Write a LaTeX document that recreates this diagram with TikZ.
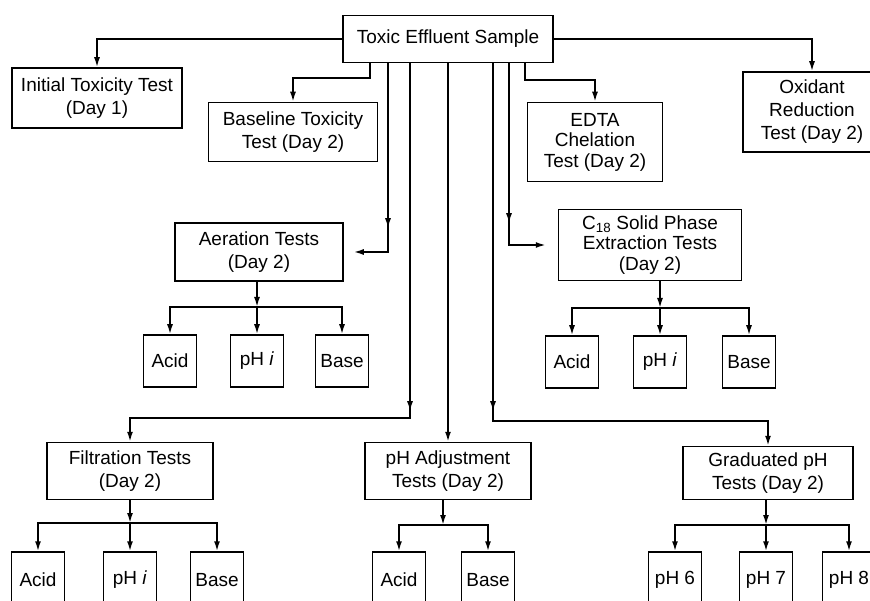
\documentclass[tikz,border=0pt]{standalone}
\usepackage{fontspec}
\setmainfont{Liberation Sans}
\usetikzlibrary{arrows.meta,decorations.markings}

\begin{document}
\begin{tikzpicture}[x=1pt,y=-1pt,
      box/.style={draw,line width=1.5pt,align=center,inner sep=1pt,
        font=\fontsize{19}{23}\selectfont},
      tight/.style={font=\fontsize{19}{20.5}\selectfont},
      leaf/.style={box,minimum width=53,minimum height=52},
      link/.style={line width=1.7pt,-{Latex[length=10pt,width=6pt]}},
      midtip/.style={postaction={decorate,decoration={markings,
        mark=at position #1 with {\arrow{Latex[length=10pt,width=6pt]}}}}}
    ]
      \useasboundingbox (0,0) rectangle (870,601);
      \clip (0,0) rectangle (870,601);
      % sample and first tests
      \node[box,minimum width=210,minimum height=47] (src) at (448,39) {Toxic Effluent Sample};
      \node[box,minimum width=170,minimum height=60] (init) at (97,98) {Initial Toxicity Test\\(Day 1)};
      \node[box,minimum width=169,minimum height=59] (basel) at (293,132) {Baseline Toxicity\\Test (Day 2)};
      \node[box,tight,minimum width=135,minimum height=79] (edta) at (595,142) {EDTA\\Chelation\\Test (Day 2)};
      \node[box,minimum width=138,minimum height=80] (oxid) at (812,112) {Oxidant\\Reduction\\Test (Day 2)};
      % middle tests
      \node[box,minimum width=168,minimum height=58] (aer) at (259,252) {Aeration Tests\\(Day 2)};
      \node[box,tight,minimum width=183,minimum height=71] (c18) at (650,245) {C\textsubscript{18} Solid Phase\\Extraction Tests\\(Day 2)};
      \node[leaf] (aacid) at (170,361) {Acid};
      \node[leaf] (aphi) at (257,361) {pH \textit{i}};
      \node[leaf] (abase) at (342,361) {Base};
      \node[leaf] (cacid) at (572,362) {Acid};
      \node[leaf] (cphi) at (660,362) {pH \textit{i}};
      \node[leaf] (cbase) at (749,362) {Base};
      % lower tests
      \node[box,minimum width=166,minimum height=57] (filt) at (130,471) {Filtration Tests\\(Day 2)};
      \node[box,minimum width=166,minimum height=57] (phadj) at (448,471) {pH Adjustment\\Tests (Day 2)};
      \node[box,minimum width=170,minimum height=53] (grad) at (768,473) {Graduated pH\\Tests (Day 2)};
      \node[leaf,minimum height=56] (facid) at (38,580) {Acid};
      \node[leaf,minimum height=56] (fphi) at (130,580) {pH \textit{i}};
      \node[leaf,minimum height=56] (fbase) at (217,580) {Base};
      \node[leaf,minimum height=56] (pacid) at (399,580) {Acid};
      \node[leaf,minimum height=56] (pbase) at (488,580) {Base};
      \node[leaf,minimum height=56] (ph6) at (675,580) {pH 6};
      \node[leaf,minimum height=56] (ph7) at (766,580) {pH 7};
      \node[leaf,minimum height=56] (ph8) at (849,580) {pH 8};
      % bends and bars
      \coordinate (bbend) at (370,78);
      \coordinate (ebend) at (525,80);
      \coordinate (atrunk) at (388,62);
      \coordinate (ctrunk) at (509,62);
      \coordinate (fbend) at (410,418);
      \coordinate (gbend) at (493,421);
      \coordinate (abar) at (257,307);
      \coordinate (cbar) at (660,308);
      \coordinate (fbar) at (130,523);
      \coordinate (pbar) at (443,525);
      \coordinate (gbar) at (766,525);
      % links from the sample
      \draw[link] (src.west) -| (init.north);
      \draw[link] (src.east) -| (oxid.north);
      \draw[link] (src.south -| bbend) -- (bbend) -| (basel.north);
      \draw[link] (src.south -| ebend) -- (ebend) -| (edta.north);
      \draw[link,midtip=165pt] (src.south -| atrunk) |- ([xshift=10pt]aer.east);
      \draw[link,midtip=160pt] (src.south -| ctrunk) |- ([xshift=-12pt]c18.west);
      \draw[link,midtip=348pt] (src.south -| fbend) -- (fbend) -| (filt.north);
      \draw[link] (src.south -| phadj.north) -- (phadj.north);
      \draw[link,midtip=348pt] (src.south -| gbend) -- (gbend) -| (grad.north);
      % branches
      \draw[link] (aer.south -| abar) -- (abar);
      \foreach \n in {aacid,aphi,abase} \draw[link] (abar) -| (\n.north);
      \draw[link] (c18.south -| cbar) -- (cbar);
      \foreach \n in {cacid,cphi,cbase} \draw[link] (cbar) -| (\n.north);
      \draw[link] (filt.south -| fbar) -- (fbar);
      \foreach \n in {facid,fphi,fbase} \draw[link] (fbar) -| (\n.north);
      \draw[link] (phadj.south -| pbar) -- (pbar);
      \foreach \n in {pacid,pbase} \draw[link] (pbar) -| (\n.north);
      \draw[link] (grad.south -| gbar) -- (gbar);
      \foreach \n in {ph6,ph7,ph8} \draw[link] (gbar) -| (\n.north);
    \end{tikzpicture}
\end{document}
